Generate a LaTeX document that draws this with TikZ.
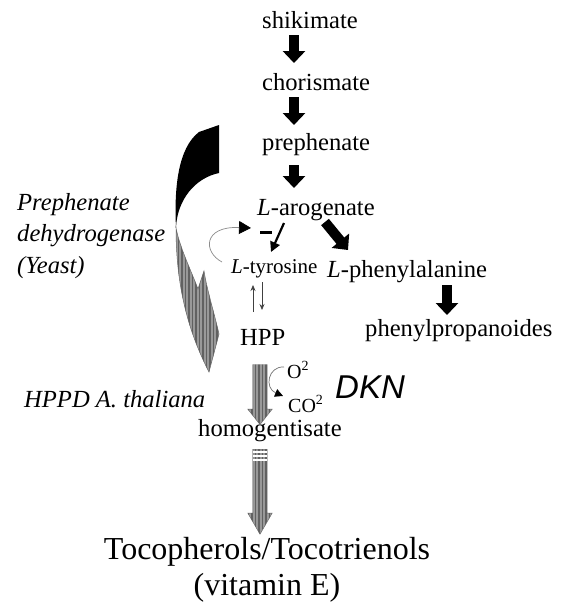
\documentclass[tikz,border=0pt]{standalone}
\usepackage{fontspec}
\setmainfont{Liberation Serif}
\newfontfamily\dknfont{Liberation Sans}
\usetikzlibrary{arrows.meta, shapes.arrows, patterns.meta, calc}

\tikzset{
  met/.style={inner sep=0pt, anchor=base west, font=\fontsize{24.6}{30}\selectfont},
  blkarr/.style={line width=10pt, -{Triangle[width=22pt,length=12pt]}},
  smallarr/.style={line width=2.2pt, -{Triangle[width=10pt,length=10pt]}},
  thinarr/.style={line width=0.7pt, black!75, -{Stealth[length=6pt,width=5pt]}},
  looparr/.style={line width=0.7pt, black!45, -{Triangle[width=13pt,length=12pt,color=black]}},
  stripe/.style={preaction={fill=black!40}, pattern={Lines[angle=90,distance=3.5pt,line width=1.2pt]}, pattern color=black!62},
  grayarr/.style={single arrow, shape border rotate=270, stripe, draw=black!60, line width=0.4pt,
    inner sep=7pt, single arrow head extend=5pt, single arrow head indent=0pt},
}

\begin{document}
\begin{tikzpicture}[x=1pt, y=-1pt]
  \fill[white] (0,0) rectangle (566,603);
  \useasboundingbox (0,0) rectangle (566,603);

  % metabolites
  \node[met] (shik) at (262,28) {shikimate};
  \node[met] (chor) at (262,90) {chorismate};
  \node[met] (prep) at (262,150) {prephenate};
  \node[met] (arog) at (257,215) {\textit{L}-arogenate};
  \node[met, font=\fontsize{21}{25}\selectfont] (tyr) at (231,273) {\textit{L}-tyrosine};
  \node[met] (phe) at (327,277) {\textit{L}-phenylalanine};
  \node[met] (ppro) at (365,336) {phenylpropanoides};
  \node[met] (hpp) at (240,345) {HPP};
  \node[met, font=\fontsize{20}{24}\selectfont] (oxy) at (287,378) {O\textsuperscript{2}};
  \node[met, font=\fontsize{20}{24}\selectfont] (co2) at (288,412) {CO\textsuperscript{2}};
  \node[met, font=\dknfont\itshape\fontsize{33}{36}\selectfont] (dkn) at (335,398) {DKN};
  \node[met] (homo) at (198,436) {homogentisate};
  \node[inner sep=0pt, anchor=north, align=center, font=\fontsize{32}{36}\selectfont] (toco) at (267,537) {Tocopherols/Tocotrienols\\(vitamin E)};

  % enzymes
  \node[inner sep=0pt, anchor=north west, align=left, font=\itshape\fontsize{24.6}{31.5}\selectfont] (pdh) at (17,193) {Prephenate\\dehydrogenase\\(Yeast)};
  \node[met, font=\itshape\fontsize{24.6}{30}\selectfont] (hppd) at (24,407) {HPPD A. thaliana};

  % main pathway
  \draw[blkarr] ($(shik.base west)+(32,7)$) -- ($(chor.base west)+(32,-27)$);
  \draw[blkarr] ($(chor.base west)+(32,7)$) -- ($(prep.base west)+(32,-25)$);
  \draw[blkarr] ($(prep.base west)+(32,15)$) -- ($(arog.base west)+(37,-27)$);
  \draw[blkarr] ($(arog.base west)+(68,7)$) -- ($(phe.base west)+(21,-27)$);
  \draw[blkarr] ($(phe.base west)+(120,8)$) -- ($(ppro.base west)+(82,-21)$);
  \draw[smallarr] ($(arog.base west)+(27,8)$) -- ($(tyr.base west)+(40,-21)$);
  \draw[line width=3pt] (260,232) -- (272,232);
  \draw[looparr] ($(tyr.base west)+(-9,-11)$) .. controls (203,252) and (203,226) .. ($(arog.base west)+(-6,13)$);

  % tyrosine <-> HPP
  \draw[thinarr] ($(hpp.base west)+(13,-33)$) -- ($(tyr.base west)+(22,12)$);
  \draw[thinarr] ($(tyr.base west)+(31,9)$) -- ($(hpp.base west)+(22,-35)$);

  % HPPD step
  \node[grayarr, minimum height=60pt, single arrow tip angle=77] (g1) at (260,390) {};
  \draw[line width=0.7pt, black!55, -{Triangle[width=8pt,length=8pt,color=black]}]
    ($(oxy.base west)+(-3,-11)$) .. controls (268,366) and (264,388) .. ($(co2.base west)+(-5,-16)$);
  \node[grayarr, minimum height=85pt, single arrow tip angle=60] (g2) at (260,485.5) {};
  \foreach \d in {3,7,11}
    \draw[white, line width=1.3pt] ([shift={(-7,\d)}]g2.tail) -- ([shift={(7,\d)}]g2.tail);

  % yeast enzyme bypass
  \fill[black] (219,125) -- (219,173) .. controls (195,178) and (177,200) .. (176,228)
    .. controls (174,188) and (178,148) .. (199,132) -- cycle;
  \path[stripe, draw=black!60, line width=0.5pt] (176,228) .. controls (176,290) and (190,335) .. (209,372)
    -- (219,334) .. controls (214,312) and (207,290) .. (204,271) -- (198,289)
    .. controls (190,268) and (180,248) .. (176,228) -- cycle;
\end{tikzpicture}
\end{document}
